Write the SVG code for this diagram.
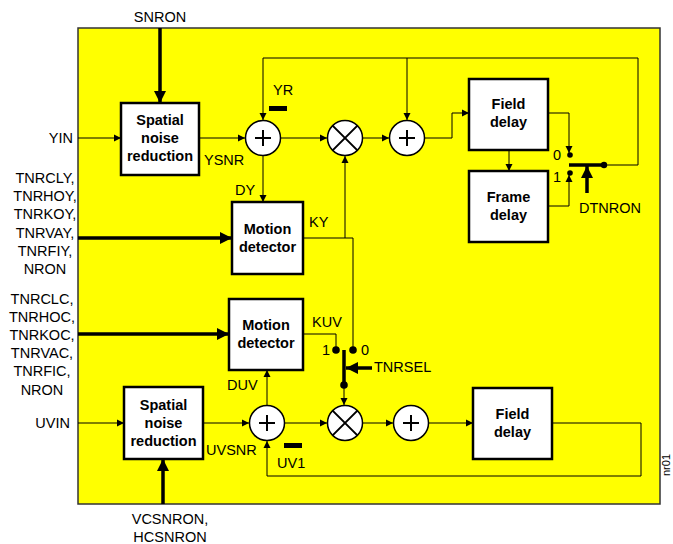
<svg xmlns="http://www.w3.org/2000/svg" width="673" height="544" viewBox="0 0 673 544">
<defs>
<marker id="a" markerUnits="userSpaceOnUse" markerWidth="8" markerHeight="8" refX="7" refY="4" orient="auto"><path d="M0,0.5 L7,4 L0,7.5 z" fill="#000"/></marker>
<marker id="t" markerUnits="userSpaceOnUse" markerWidth="13" markerHeight="12" refX="12" refY="6" orient="auto"><path d="M0,0 L12,6 L0,12 z" fill="#000"/></marker>
<style>
text{font-family:"Liberation Sans",Arial,sans-serif;font-size:14.5px;fill:#000}
.b{font-weight:bold;text-anchor:middle}
.m{text-anchor:middle}
.e{text-anchor:end}
.box{fill:#fff;stroke:#000;stroke-width:2.5}
.c{fill:#fff;stroke:#000;stroke-width:1.5}
.cx{stroke:#000;stroke-width:2}
.w{fill:none;stroke:#000;stroke-width:1}
.wa{fill:none;stroke:#000;stroke-width:1;marker-end:url(#a)}
.th{fill:none;stroke:#000;stroke-width:3.5;marker-end:url(#t)}
.lv{fill:none;stroke:#000;stroke-width:3.5}
</style>
</defs>
<rect x="78" y="28" width="582" height="476" fill="#ffff00" stroke="#333" stroke-width="1.5"/>

<g id="connectors">
<path class="wa" d="M78,138 H121"/>
<path class="wa" d="M199,138 H245"/>
<path class="wa" d="M604,165 H638 V58 H263 V120"/>
<path class="wa" d="M407,58 V120"/>
<path class="wa" d="M281,138 H327"/>
<path class="wa" d="M363,138 H389"/>
<path class="wa" d="M425,138 H452 V113 H469"/>
<path class="wa" d="M509,150 V171"/>
<path class="wa" d="M548,113 H569 V153"/>
<path class="wa" d="M548,206 H569 V175"/>
<path class="wa" d="M263,156 V202"/>
<path class="w" d="M303,238 H353 V350"/>
<path class="wa" d="M345,238 V156"/>
<path class="w" d="M303,334 H336 V350"/>
<path class="wa" d="M344,385 V405"/>
<path class="wa" d="M78,423 H124"/>
<path class="wa" d="M203,423 H249"/>
<path class="wa" d="M267,405 V370"/>
<path class="wa" d="M285,423 H327"/>
<path class="wa" d="M363,423 H393"/>
<path class="wa" d="M429,423 H473"/>
<path class="wa" d="M552,423 H641 V476 H267 V441"/>
<path class="th" d="M160,28 V103"/>
<path class="th" d="M78,238 H232"/>
<path class="th" d="M78,334 H229"/>
<path class="th" d="M163,504 V459"/>
<path class="th" d="M587,193 V166"/>
<path class="th" d="M372,368 H346"/>
<path class="lv" d="M344,350 V385"/>
<path class="lv" d="M569,165 H604"/>
<circle cx="604" cy="165" r="3.2"/>
<circle cx="570" cy="155" r="2.8"/>
<circle cx="570" cy="173" r="2.8"/>
<circle cx="336" cy="350" r="3.8"/>
<circle cx="353" cy="350" r="3.8"/>
<circle cx="344" cy="385" r="3.8"/>
<rect x="269" y="106" width="18" height="5"/>
<rect x="284" y="443" width="18" height="5"/>
</g>

<g id="snr-y"><rect class="box" x="121" y="103" width="78" height="72"/><text class="b" x="160" y="125">Spatial</text><text class="b" x="160" y="143">noise</text><text class="b" x="160" y="161">reduction</text></g>
<g id="add-y1"><circle class="c" cx="263" cy="138" r="17.5"/><path class="cx" d="M255,138 H271 M263,130 V146"/></g>
<g id="mul-y"><circle class="c" cx="345" cy="138" r="17.5"/><path class="cx" d="M332.6,125.6 L357.4,150.4 M357.4,125.6 L332.6,150.4"/></g>
<g id="add-y2"><circle class="c" cx="407" cy="138" r="17.5"/><path class="cx" d="M399,138 H415 M407,130 V146"/></g>
<g id="field-y"><rect class="box" x="469" y="79" width="79" height="71"/><text class="b" x="508.5" y="109">Field</text><text class="b" x="508.5" y="127">delay</text></g>
<g id="frame-y"><rect class="box" x="469" y="171" width="79" height="71"/><text class="b" x="508.5" y="202">Frame</text><text class="b" x="508.5" y="220">delay</text></g>
<g id="md-y"><rect class="box" x="232" y="202" width="71" height="72"/><text class="b" x="267.5" y="234">Motion</text><text class="b" x="267.5" y="252">detector</text></g>
<g id="md-uv"><rect class="box" x="229" y="299" width="74" height="71"/><text class="b" x="266" y="330">Motion</text><text class="b" x="266" y="348">detector</text></g>
<g id="snr-uv"><rect class="box" x="124" y="387" width="79" height="72"/><text class="b" x="163.5" y="410">Spatial</text><text class="b" x="163.5" y="428">noise</text><text class="b" x="163.5" y="446">reduction</text></g>
<g id="add-uv1"><circle class="c" cx="267" cy="423" r="17.5"/><path class="cx" d="M259,423 H275 M267,415 V431"/></g>
<g id="mul-uv"><circle class="c" cx="345" cy="423" r="17.5"/><path class="cx" d="M332.6,410.6 L357.4,435.4 M357.4,410.6 L332.6,435.4"/></g>
<g id="add-uv2"><circle class="c" cx="411" cy="423" r="17.5"/><path class="cx" d="M403,423 H419 M411,415 V431"/></g>
<g id="field-uv"><rect class="box" x="473" y="388" width="79" height="71"/><text class="b" x="512.5" y="419">Field</text><text class="b" x="512.5" y="437">delay</text></g>

<g id="labels">
<text class="m" x="160" y="22">SNRON</text>
<text class="e" x="73" y="143">YIN</text>
<text x="273" y="95">YR</text>
<text x="204" y="165">YSNR</text>
<text x="235" y="195">DY</text>
<text x="309" y="227">KY</text>
<text x="312" y="327">KUV</text>
<text x="227" y="390">DUV</text>
<text x="206" y="455">UVSNR</text>
<text x="277" y="468">UV1</text>
<text class="e" x="70" y="428">UVIN</text>
<text class="m" x="170" y="524">VCSNRON,</text>
<text class="m" x="170" y="542">HCSNRON</text>
<text x="374" y="372">TNRSEL</text>
<text x="322" y="355">1</text>
<text x="361" y="355">0</text>
<text x="579" y="213">DTNRON</text>
<text x="553" y="160">0</text>
<text x="553" y="182">1</text>
<text class="m" x="45" y="183">TNRCLY,</text>
<text class="m" x="45" y="201">TNRHOY,</text>
<text class="m" x="45" y="219">TNRKOY,</text>
<text class="m" x="45" y="238">TNRVAY,</text>
<text class="m" x="45" y="256">TNRFIY,</text>
<text class="m" x="45" y="274">NRON</text>
<text class="m" x="42" y="304">TNRCLC,</text>
<text class="m" x="42" y="322">TNRHOC,</text>
<text class="m" x="42" y="340">TNRKOC,</text>
<text class="m" x="42" y="358">TNRVAC,</text>
<text class="m" x="42" y="376">TNRFIC,</text>
<text class="m" x="42" y="395">NRON</text>
<text x="0" y="0" transform="translate(670,476) rotate(-90)" style="font-size:11px">nr01</text>
</g>
</svg>
